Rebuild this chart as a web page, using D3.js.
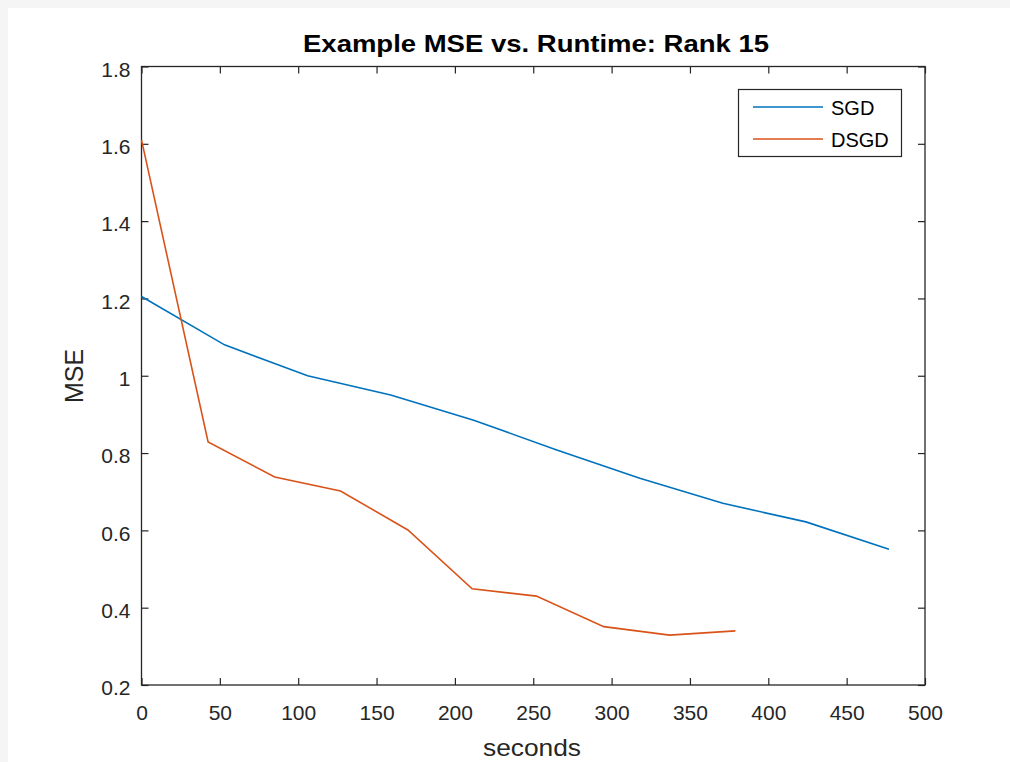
<!DOCTYPE html>
<html lang="en">
<head>
    <meta charset="UTF-8">
    <title>Example MSE vs. Runtime: Rank 15</title>
    <script src="https://d3js.org/d3.v7.min.js"></script>
    <style>
        html, body { margin: 0; padding: 0; background: #fff; }
        body { font-family: 'Liberation Sans', Arial, Helvetica, sans-serif; }
        svg { display: block; }
    </style>
</head>
<body>
    <svg id="chart" width="1010" height="762"></svg>

    <script>
        // data
        const sgdSeconds = [0, 53, 106, 159, 212, 265, 318, 371, 424, 477];
        const sgdMse = [1.205, 1.08, 1.0, 0.95, 0.885, 0.808, 0.735, 0.67, 0.622, 0.551];
        const dsgdSeconds = [0, 42.5, 85, 127, 170, 211, 252, 295, 337, 379];
        const dsgdMse = [1.61, 0.829, 0.738, 0.702, 0.601, 0.449, 0.43, 0.351, 0.329, 0.34];
        const xTicks = [0, 50, 100, 150, 200, 250, 300, 350, 400, 450, 500];
        const yTicks = [0.2, 0.4, 0.6, 0.8, 1, 1.2, 1.4, 1.6, 1.8];
        const seriesNames = ["SGD", "DSGD"];
        const seriesColors = ["#0072bd", "#d95319"];

        const svg = d3.select("#chart");
        const plotL = 141.5, plotR = 925, plotT = 66.5, plotB = 685;

        // faint figure edge
        svg.append("rect").attr("x", 0).attr("y", 0).attr("width", 1010).attr("height", 8).attr("fill", "#f5f5f5");
        svg.append("rect").attr("x", 0).attr("y", 0).attr("width", 8).attr("height", 762).attr("fill", "#f5f5f5");

        const x = d3.scaleLinear().domain([0, 500]).range([plotL, plotR]);
        const y = d3.scaleLinear().domain([0.2, 1.8]).range([plotB, plotT]);

        const axisColor = "#262626";
        const tickLen = 7;

        function styleAxis(g) {
            g.select(".domain").remove();
            g.selectAll("line").attr("stroke", axisColor).attr("stroke-width", 1.2);
            g.selectAll("text").attr("fill", axisColor).attr("font-size", 21);
        }

        // bottom & left axes with tick labels (ticks point inward)
        svg.append("g")
            .attr("transform", `translate(0,${plotB})`)
            .call(d3.axisBottom(x).tickValues(xTicks).tickSizeInner(-tickLen).tickSizeOuter(0).tickPadding(20).tickFormat(d3.format("d")))
            .call(styleAxis);
        svg.append("g")
            .attr("transform", `translate(${plotL},0)`)
            .call(d3.axisLeft(y).tickValues(yTicks).tickSizeInner(-tickLen).tickSizeOuter(0).tickPadding(11).tickFormat(d => String(+d.toFixed(1))))
            .call(styleAxis)
            .call(g => g.selectAll("text").attr("dy", "0.46em"));
        // top & right mirrored ticks
        svg.append("g")
            .attr("transform", `translate(0,${plotT})`)
            .call(d3.axisTop(x).tickValues(xTicks).tickSizeInner(-tickLen).tickSizeOuter(0).tickFormat(""))
            .call(styleAxis);
        svg.append("g")
            .attr("transform", `translate(${plotR},0)`)
            .call(d3.axisRight(y).tickValues(yTicks).tickSizeInner(-tickLen).tickSizeOuter(0).tickFormat(""))
            .call(styleAxis);

        // axes box
        svg.append("rect")
            .attr("x", plotL).attr("y", plotT)
            .attr("width", plotR - plotL).attr("height", plotB - plotT)
            .attr("fill", "none").attr("stroke", axisColor).attr("stroke-width", 1.3);

        // lines
        const line = d3.line().x(d => x(d[0])).y(d => y(d[1]));
        const series = [
            d3.zip(sgdSeconds, sgdMse),
            d3.zip(dsgdSeconds, dsgdMse)
        ];
        series.forEach((pts, i) => {
            svg.append("path")
                .datum(pts)
                .attr("d", line)
                .attr("fill", "none")
                .attr("stroke", seriesColors[i])
                .attr("stroke-width", 1.6);
        });

        // title and axis labels
        svg.append("text")
            .attr("x", 303).attr("y", 52)
            .attr("textLength", 466).attr("lengthAdjust", "spacingAndGlyphs")
            .attr("font-size", 24).attr("font-weight", "bold")
            .attr("fill", "#000")
            .text("Example MSE vs. Runtime: Rank 15");
        svg.append("text")
            .attr("x", 483).attr("y", 756)
            .attr("textLength", 98).attr("lengthAdjust", "spacingAndGlyphs")
            .attr("font-size", 24)
            .attr("fill", axisColor)
            .text("seconds");
        svg.append("text")
            .attr("transform", `translate(83,376) rotate(-90)`)
            .attr("text-anchor", "middle")
            .attr("font-size", 25)
            .attr("fill", axisColor)
            .text("MSE");

        // legend
        const legend = svg.append("g");
        legend.append("rect")
            .attr("x", 738.5).attr("y", 89.5)
            .attr("width", 163).attr("height", 67)
            .attr("fill", "#fff").attr("stroke", axisColor).attr("stroke-width", 1.2);
        seriesNames.forEach((name, i) => {
            const ly = 107 + i * 32;
            legend.append("line")
                .attr("x1", 753).attr("x2", 823)
                .attr("y1", ly).attr("y2", ly)
                .attr("stroke", seriesColors[i]).attr("stroke-width", 1.6);
            legend.append("text")
                .attr("x", 831).attr("y", ly + 8)
                .attr("font-size", 20)
                .attr("fill", "#000")
                .text(name);
        });
    </script>
</body>
</html>
